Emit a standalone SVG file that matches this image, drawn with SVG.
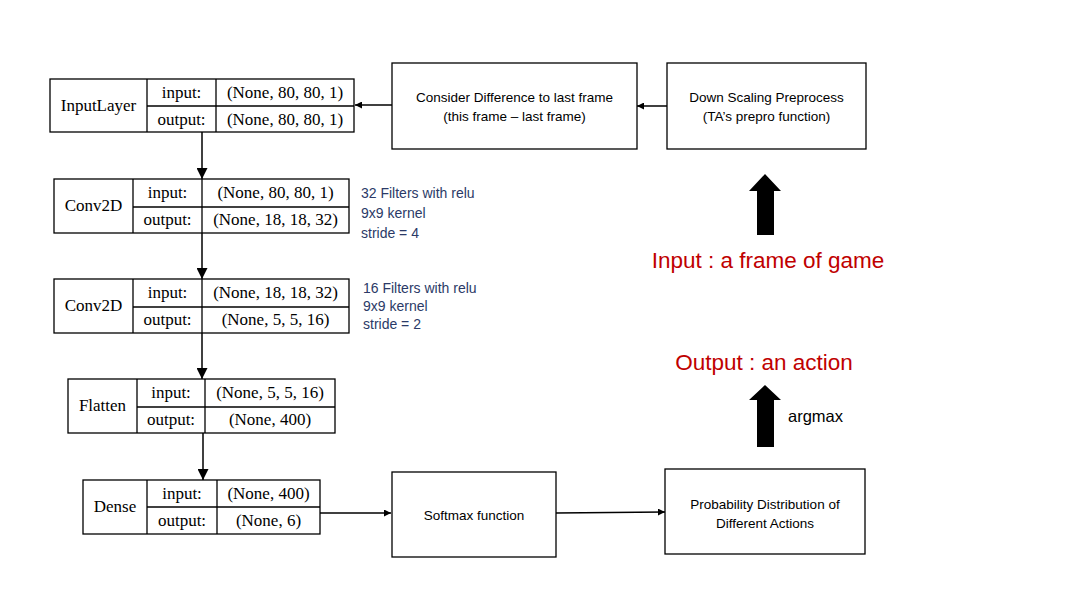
<svg xmlns="http://www.w3.org/2000/svg" width="1067" height="600" viewBox="0 0 1067 600">
<defs>
<style>
.bx{fill:#fff;stroke:#000;stroke-width:1.3}
.ln{stroke:#000;stroke-width:1.3;fill:none}
.k{font-family:"Liberation Serif","Times New Roman",serif;font-size:17px;fill:#000;text-anchor:middle}
.c{font-family:"Liberation Sans",Arial,sans-serif;font-size:13.5px;fill:#000;text-anchor:middle}
.note{font-family:"Liberation Sans",Arial,sans-serif;font-size:14px;fill:#2b3a67}
.red{font-family:"Liberation Sans",Arial,sans-serif;font-size:22.5px;fill:#c00000;text-anchor:middle}
.conn{stroke:#000;stroke-width:1.5;fill:none}
</style>
<marker id="ah" viewBox="0 0 10 10" refX="10" refY="5" markerWidth="7" markerHeight="7" markerUnits="userSpaceOnUse" orient="auto"><path d="M0,0 L10,5 L0,10 z" fill="#000"/></marker>
<marker id="ahb" viewBox="0 0 10 10" refX="10" refY="5" markerWidth="11" markerHeight="11" markerUnits="userSpaceOnUse" orient="auto"><path d="M0,0 L10,5 L0,10 z" fill="#000"/></marker>
</defs>
<rect width="1067" height="600" fill="#fff"/>

<g id="connectors">
<line class="conn" x1="202" y1="132" x2="202" y2="179" marker-end="url(#ahb)"/>
<line class="conn" x1="202" y1="233" x2="202" y2="279" marker-end="url(#ahb)"/>
<line class="conn" x1="202" y1="333" x2="202" y2="379" marker-end="url(#ahb)"/>
<line class="conn" x1="203" y1="433" x2="203" y2="480" marker-end="url(#ahb)"/>
<line class="conn" x1="392" y1="105" x2="355" y2="105" marker-end="url(#ah)"/>
<line class="conn" x1="667" y1="106" x2="637" y2="106" marker-end="url(#ah)"/>
<line class="conn" x1="320" y1="513" x2="391" y2="513" marker-end="url(#ah)"/>
<line class="conn" x1="556" y1="513" x2="665" y2="512" marker-end="url(#ah)"/>
<path d="M757,235 L757,191 L749,191 L765,174 L781,191 L774,191 L774,235 Z" fill="#000"/>
<path d="M757,447 L757,400 L749,400 L765,385 L781,400 L774,400 L774,447 Z" fill="#000"/>
</g>

<g id="inputlayer">
<rect class="bx" x="50" y="79" width="304" height="53"/>
<line class="ln" x1="147" y1="79" x2="147" y2="132"/>
<line class="ln" x1="216" y1="79" x2="216" y2="132"/>
<line class="ln" x1="147" y1="106" x2="354" y2="106"/>
<text class="k" x="98.5" y="111">InputLayer</text>
<text class="k" x="181.5" y="98">input:</text>
<text class="k" x="181.5" y="125">output:</text>
<text class="k" x="285" y="98">(None, 80, 80, 1)</text>
<text class="k" x="285" y="125">(None, 80, 80, 1)</text>
</g>

<g id="conv2d_1">
<rect class="bx" x="54" y="179" width="295" height="54"/>
<line class="ln" x1="133" y1="179" x2="133" y2="233"/>
<line class="ln" x1="202" y1="179" x2="202" y2="233"/>
<line class="ln" x1="133" y1="207" x2="349" y2="207"/>
<text class="k" x="93.5" y="211">Conv2D</text>
<text class="k" x="167.5" y="198">input:</text>
<text class="k" x="167.5" y="225">output:</text>
<text class="k" x="275.5" y="198">(None, 80, 80, 1)</text>
<text class="k" x="275.5" y="225">(None, 18, 18, 32)</text>
<text class="note" x="361" y="198">32 Filters with relu</text>
<text class="note" x="361" y="218">9x9 kernel</text>
<text class="note" x="361" y="238">stride = 4</text>
</g>

<g id="conv2d_2">
<rect class="bx" x="54" y="279" width="295" height="54"/>
<line class="ln" x1="133" y1="279" x2="133" y2="333"/>
<line class="ln" x1="202" y1="279" x2="202" y2="333"/>
<line class="ln" x1="133" y1="307" x2="349" y2="307"/>
<text class="k" x="93.5" y="311">Conv2D</text>
<text class="k" x="167.5" y="298">input:</text>
<text class="k" x="167.5" y="325">output:</text>
<text class="k" x="275.5" y="298">(None, 18, 18, 32)</text>
<text class="k" x="275.5" y="325">(None, 5, 5, 16)</text>
<text class="note" x="363" y="293">16 Filters with relu</text>
<text class="note" x="363" y="311">9x9 kernel</text>
<text class="note" x="363" y="329">stride = 2</text>
</g>

<g id="flatten">
<rect class="bx" x="68" y="379" width="267" height="54"/>
<line class="ln" x1="137" y1="379" x2="137" y2="433"/>
<line class="ln" x1="205" y1="379" x2="205" y2="433"/>
<line class="ln" x1="137" y1="407" x2="335" y2="407"/>
<text class="k" x="102.5" y="411">Flatten</text>
<text class="k" x="171" y="398">input:</text>
<text class="k" x="171" y="425">output:</text>
<text class="k" x="270" y="398">(None, 5, 5, 16)</text>
<text class="k" x="270" y="425">(None, 400)</text>
</g>

<g id="dense">
<rect class="bx" x="83" y="480" width="237" height="54"/>
<line class="ln" x1="147" y1="480" x2="147" y2="534"/>
<line class="ln" x1="217" y1="480" x2="217" y2="534"/>
<line class="ln" x1="147" y1="507" x2="320" y2="507"/>
<text class="k" x="115" y="512">Dense</text>
<text class="k" x="182" y="499">input:</text>
<text class="k" x="182" y="526">output:</text>
<text class="k" x="268.5" y="499">(None, 400)</text>
<text class="k" x="268.5" y="526">(None, 6)</text>
</g>

<g id="difference">
<rect class="bx" x="392" y="63" width="245" height="86"/>
<text class="c" x="514.5" y="102">Consider Difference to last frame</text>
<text class="c" x="514.5" y="121">(this frame – last frame)</text>
</g>

<g id="downscale">
<rect class="bx" x="667" y="63" width="199" height="86"/>
<text class="c" x="766.5" y="102">Down Scaling Preprocess</text>
<text class="c" x="766.5" y="121">(TA’s prepro function)</text>
</g>

<g id="softmax">
<rect class="bx" x="392" y="472" width="164" height="85"/>
<text class="c" x="474" y="520">Softmax function</text>
</g>

<g id="probability">
<rect class="bx" x="665" y="469" width="200" height="85"/>
<text class="c" x="765" y="509">Probability Distribution of</text>
<text class="c" x="765" y="528">Different Actions</text>
</g>

<g id="labels">
<text class="red" x="768" y="268">Input : a frame of game</text>
<text class="red" x="764" y="370">Output : an action</text>
<text x="788" y="422" font-family="'Liberation Sans',Arial,sans-serif" font-size="16.5px" fill="#000">argmax</text>
</g>
</svg>
